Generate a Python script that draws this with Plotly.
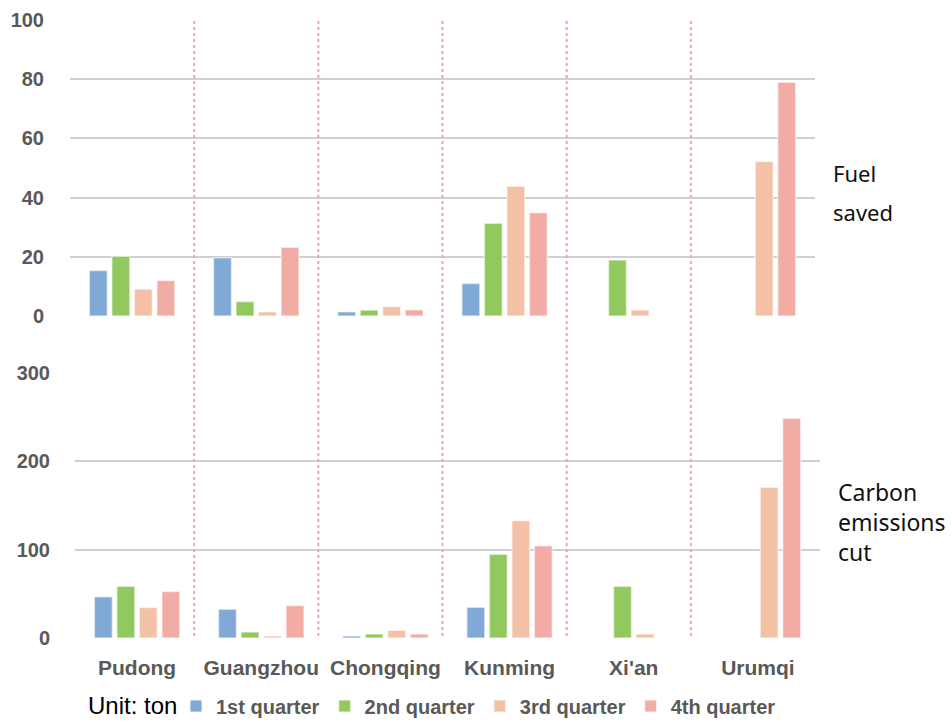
import plotly.graph_objects as go

cities = ["Pudong", "Guangzhou", "Chongqing", "Kunming", "Xi'an", "Urumqi"]
quarters = ["1st quarter", "2nd quarter", "3rd quarter", "4th quarter"]
colors = ["#80AAD5", "#92C95F", "#F3C1A5", "#F1ACA6"]

# Fuel saved (ton)
fuel_q1 = [15.4, 19.7, 1.4, 11.0, None, None]
fuel_q2 = [20.2, 4.9, 2.0, 31.3, 18.9, None]
fuel_q3 = [9.1, 1.4, 3.2, 43.8, 2.0, 52.2]
fuel_q4 = [12.0, 23.2, 2.1, 34.9, None, 79.0]

# Carbon emissions cut (ton)
carbon_q1 = [46.6, 32.6, 2.3, 34.8, None, None]
carbon_q2 = [58.7, 6.8, 4.5, 94.7, 58.7, None]
carbon_q3 = [34.5, 2.3, 8.7, 132.6, 4.5, 170.8]
carbon_q4 = [52.7, 36.7, 4.5, 104.5, None, 248.9]

fuel = [fuel_q1, fuel_q2, fuel_q3, fuel_q4]
carbon = [carbon_q1, carbon_q2, carbon_q3, carbon_q4]

H = 722
W = 952
def py(px):
    return 1 - px / H
def px_(x):
    return x / W

tick_font = dict(family="Liberation Sans, Arial, sans-serif", size=20, color="#595959", weight="bold")
label_font = dict(family="Noto Sans, Open Sans, sans-serif", size=22, color="#111111")

fig = go.Figure()
for q, name in enumerate(quarters):
    fig.add_trace(go.Bar(
        x=cities, y=fuel[q], name=name, legendgroup=name,
        marker=dict(color=colors[q], line=dict(color="rgba(255,255,255,0.55)", width=1.5)),
        xaxis="x", yaxis="y", showlegend=True,
    ))
for q, name in enumerate(quarters):
    fig.add_trace(go.Bar(
        x=cities, y=carbon[q], name=name, legendgroup=name,
        marker=dict(color=colors[q], line=dict(color="rgba(255,255,255,0.55)", width=1.5)),
        xaxis="x2", yaxis="y2", showlegend=False,
    ))

grid = dict(showgrid=True, gridcolor="#D0D0D0", gridwidth=2, zeroline=False,
            showline=False, tickfont=tick_font, ticks="", automargin=False)

fig.update_layout(
    width=W, height=H,
    margin=dict(l=0, r=0, t=0, b=0, autoexpand=False),
    paper_bgcolor="white", plot_bgcolor="white",
    barmode="group", bargap=0.275, bargroupgap=0.2,
    xaxis=dict(domain=[px_(70), px_(815)], anchor="y", type="category",
               range=[-0.5, 5.5], showticklabels=False, showgrid=False,
               zeroline=False, showline=False, ticks="", automargin=False),
    yaxis=dict(domain=[py(316), py(20)], anchor="x", range=[0, 100], dtick=20,
               ticklabelstandoff=25, **grid),
    xaxis2=dict(domain=[px_(75), px_(820)], anchor="y2", type="category",
                range=[-0.5, 5.5], showgrid=False, zeroline=False, showline=False,
                ticks="", tickfont=dict(tick_font, size=21), ticklabelstandoff=15,
                automargin=False),
    yaxis2=dict(domain=[py(638), py(373)], anchor="x2", range=[0, 300], dtick=100,
                ticklabelstandoff=24, **grid),
    # hidden category axis used to place the city separators
    xaxis3=dict(domain=[px_(63), px_(825)], anchor="y", overlaying="x", visible=False,
                range=[-0.5, 5.5]),
    legend=dict(
        orientation="h", x=px_(176), y=py(706), xanchor="left", yanchor="middle",
        font=dict(family="Liberation Sans, Arial, sans-serif", size=20, color="#595959", weight="bold"),
        traceorder="normal", itemwidth=30, bgcolor="rgba(0,0,0,0)",
    ),
)

# dotted separators between cities
for k in range(len(cities) - 1):
    fig.add_shape(type="line", xref="x3", yref="paper",
                  x0=k + 0.5, x1=k + 0.5, y0=py(636), y1=py(20),
                  line=dict(color="#F2A3A3", width=2, dash="dot"), layer="above")

# unit note in front of the legend
fig.add_annotation(text="Unit: ton", xref="paper", yref="paper", x=px_(86), y=py(705),
                   xanchor="left", yanchor="middle", showarrow=False,
                   font=dict(family="Liberation Sans, Arial, sans-serif", size=24,
                             color="#000000", weight="normal"))

# panel titles on the right
for text, y in [("Fuel", 173), ("saved", 212)]:
    fig.add_annotation(text=text, xref="paper", yref="paper", x=px_(831), y=py(y),
                       xanchor="left", yanchor="middle", showarrow=False, font=label_font)
fig.add_annotation(text="Carbon<br>emissions<br>cut", xref="paper", yref="paper",
                   x=px_(836), y=py(522), xanchor="left", yanchor="middle", align="left",
                   showarrow=False, font=dict(label_font, size=23))

fig.write_html("out.html")
